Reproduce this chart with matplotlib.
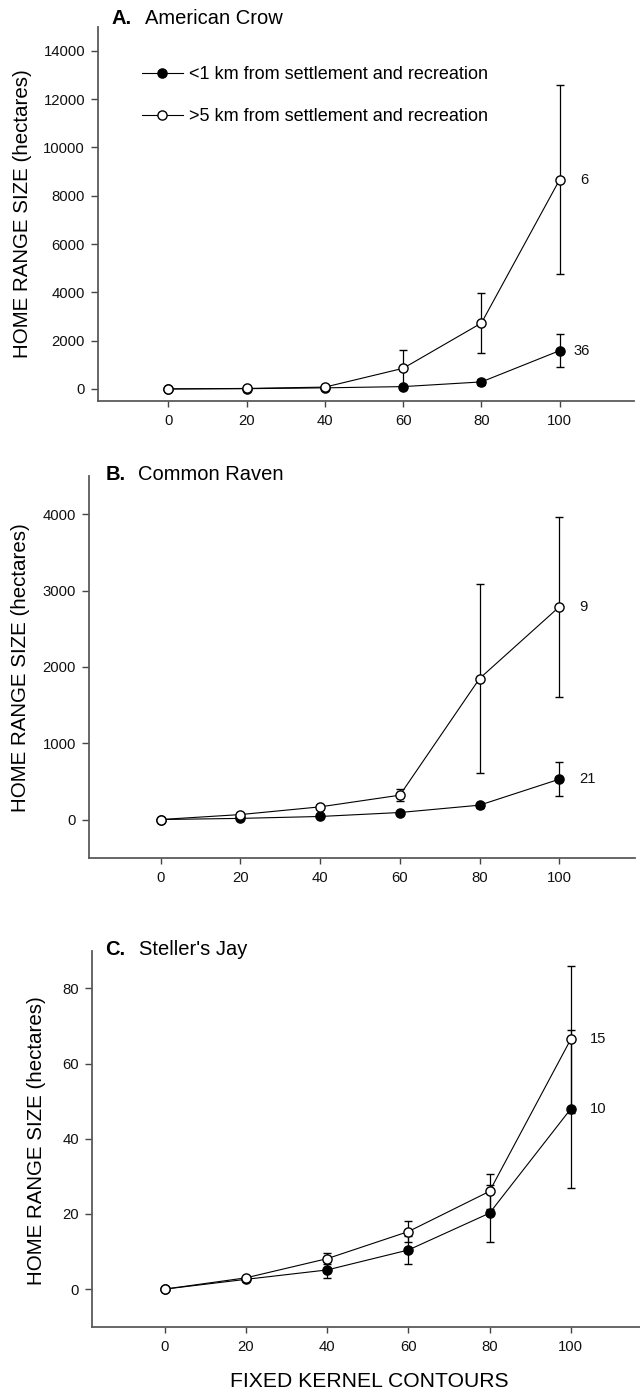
import matplotlib
matplotlib.use("Agg")
import matplotlib.pyplot as plt
import numpy as np

plt.rcParams['font.family'] = ['Liberation Sans', 'DejaVu Sans']

# fixed kernel contour levels (x axis)
contours = [0, 20, 40, 60, 80, 100]

# A. American Crow
crow_near = [0, 10, 45, 96, 290, 1585]
crow_near_err = [0, 5, 20, 40, 120, 670]
crow_far = [0, 20, 75, 854, 2728, 8668]
crow_far_err = [0, 10, 40, 746, 1260, 3900]
crow_n = ["36", "6"]

# B. Common Raven
raven_near = [0, 15, 40, 92, 188, 528]
raven_near_err = [0, 5, 10, 20, 35, 220]
raven_far = [0, 65, 166, 319, 1847, 2786]
raven_far_err = [0, 15, 25, 78, 1240, 1175]
raven_n = ["21", "9"]

# C. Steller's Jay
jay_near = [0, 2.6, 5.1, 10.4, 20.2, 47.9]
jay_near_err = [0, 0.4, 2.1, 3.8, 7.6, 21.0]
jay_far = [0, 3.0, 8.1, 15.3, 26.0, 66.4]
jay_far_err = [0, 0.3, 1.5, 2.9, 4.6, 19.5]
jay_n = ["10", "15"]

labels = ["<1 km from settlement and recreation",
          ">5 km from settlement and recreation"]

W, H = 640, 1393
fig = plt.figure(figsize=(W / 100, H / 100), dpi=100)


def px_rect(left, right, top, bottom):
    return [left / W, 1 - bottom / H, (right - left) / W, (bottom - top) / H]


def panel(rect, near, near_err, far, far_err, ylim, yticks, n_labels, n_x, n_y):
    ax = fig.add_axes(rect)
    style = dict(color='k', ms=6.6, lw=0.8, elinewidth=0.9, capsize=2.9,
                 capthick=0.9, mec='k', mew=1.0)
    h1 = ax.errorbar(contours, near, yerr=near_err, fmt='o-', mfc='k', **style)
    h2 = ax.errorbar(contours, far, yerr=far_err, fmt='o-', mfc='white', **style)
    ax.set_xlim(-18, 119)
    ax.set_ylim(*ylim)
    ax.set_xticks(contours)
    ax.set_yticks(yticks)
    for s in ['top', 'right']:
        ax.spines[s].set_visible(False)
    for s in ['left', 'bottom']:
        ax.spines[s].set_color('#5a5a5a')
        ax.spines[s].set_linewidth(1.3)
    ax.tick_params(axis='both', direction='out', color='#444444', width=1.0,
                   labelsize=10.7, labelcolor='#111111')
    ax.tick_params(axis='y', length=4.7, pad=4.6)
    ax.tick_params(axis='x', length=4.1, pad=5.6)
    for txt, xv, yv in zip(n_labels, n_x, n_y):
        ax.text(xv, yv, txt, fontsize=10.6, ha='left', va='center', color='#111111')
    return ax, h1, h2


def title(x_letter, x_name, y_base, letter, name):
    fig.text(x_letter / W, 1 - y_base / H, letter, fontsize=14.5, weight='bold',
             va='baseline', ha='left')
    fig.text(x_name / W, 1 - y_base / H, name, fontsize=14.5,
             va='baseline', ha='left')


def ylabel(x, y):
    fig.text(x / W, 1 - y / H, "HOME RANGE SIZE (hectares)", fontsize=14.8,
             rotation=90, ha='center', va='center')


# Panel A
ax_a, h1, h2 = panel(px_rect(98, 634, 26.7, 401), crow_near, crow_near_err,
                     crow_far, crow_far_err, (-500, 15000),
                     np.arange(0, 14001, 2000), crow_n,
                     [103.5, 105.3], [crow_near[-1], crow_far[-1]])
title(111.7, 145, 24, "A.", "American Crow")
ylabel(22.5, 214)
ax_a.legend([h1[0], h2[0]], labels, loc='upper left', frameon=False, fontsize=13,
            bbox_to_anchor=(141.7 / W, 1 - 66 / H), bbox_transform=fig.transFigure,
            borderpad=0, borderaxespad=0, handlelength=2.3, handletextpad=0.3,
            labelspacing=1.4)

# Panel B
ax_b, _, _ = panel(px_rect(89, 635, 476, 857.7), raven_near, raven_near_err,
                   raven_far, raven_far_err, (-500, 4500),
                   np.arange(0, 4001, 1000), raven_n,
                   [104.9, 105.1], [raven_near[-1], raven_far[-1]])
title(105.3, 138, 480, "B.", "Common Raven")
ylabel(21, 668)

# Panel C
ax_c, _, _ = panel(px_rect(91.8, 647.8, 950.7, 1326.7), jay_near, jay_near_err,
                   jay_far, jay_far_err, (-10, 90),
                   np.arange(0, 81, 20), jay_n,
                   [104.8, 104.8], [jay_near[-1], jay_far[-1]])
title(105.3, 138.8, 955, "C.", "Steller's Jay")
ylabel(36.7, 1141)
fig.text(369 / W, 1 - 1381.5 / H, "FIXED KERNEL CONTOURS", fontsize=15.2,
         ha='center', va='center')

fig.savefig("out.png", dpi=100)
